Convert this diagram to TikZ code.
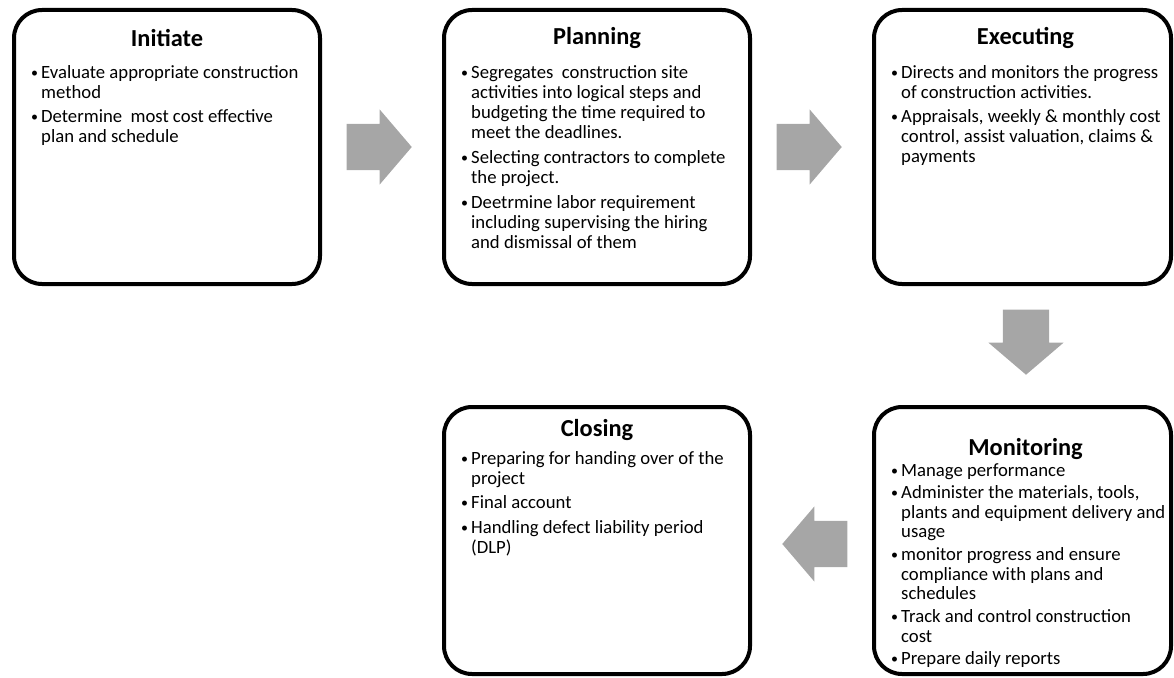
\documentclass[tikz,border=0pt]{standalone}
\usepackage{fontspec}
\setmainfont{Carlito}
\usetikzlibrary{positioning, calc, shapes.arrows}
\definecolor{flowgray}{HTML}{A6A6A6}
\tikzset{
phase/.style={draw, line width=4pt, rounded corners=28pt, minimum width=306pt, minimum height=274pt}, % the outlined stage boxes
phasetitle/.style={font=\fontsize{24.4}{28}\selectfont\bfseries, anchor=base, inner sep=0pt}, % bold heading of a stage
phasebody/.style={font=\fontsize{18.7}{20}\selectfont, anchor=base west, inner sep=0pt}, % bullet list of a stage
flow/.style={single arrow, fill=flowgray, draw=none, inner xsep=0pt, inner ysep=23pt, minimum width=75pt, minimum height=65pt, single arrow head extend=14.5pt, single arrow tip angle=99, anchor=tip}, % grey block arrows
}
\newcommand{\bul}{\raisebox{1pt}{\fontsize{14}{14}\selectfont\textbullet}}

\begin{document}
\begin{tikzpicture}[x=1pt, y=-1pt]
        \useasboundingbox (0,0) rectangle (1174,677);
        % stages
        \node[phase] (init) at (167,147) {};
        \node[phase] (plan) at (597,147) {};
        \node[phase, minimum width=297pt] (exec) at (1022.5,147) {};
        \node[phase, minimum width=297pt, minimum height=267pt] (moni) at (1022.5,540.5) {};
        \node[phase, minimum height=267pt] (clos) at (597,540.5) {};
        % headings
        \node[phasetitle] (initT) at ([yshift=-38pt]init.north) {Initiate};
        \node[phasetitle] (planT) at ([yshift=-37pt]plan.north) {Planning};
        \node[phasetitle] (execT) at ([xshift=3pt, yshift=-37pt]exec.north) {Executing};
        \node[phasetitle] (moniT) at ([xshift=3pt, yshift=-50pt]moni.north) {Monitoring};
        \node[phasetitle] (closT) at ([yshift=-31pt]clos.north) {Closing};
        % bullet lists
        \node[phasebody] (initB) at ([xshift=19pt, yshift=-70pt]init.north west) {%
                \begin{tabular}[t]{@{}p{10pt}@{}l@{}}
                \bul & Evaluate appropriate construction\\
                & method\\[4pt]
                \bul & Determine\ \ most cost effective\\
                & plan and schedule
                \end{tabular}};
        \node[phasebody] (planB) at ([xshift=19pt, yshift=-70pt]plan.north west) {%
                \begin{tabular}[t]{@{}p{10pt}@{}l@{}}
                \bul & Segregates\ \ construction site\\
                & activities into logical steps and\\
                & budgeting the time required to\\
                & meet the deadlines.\\[5pt]
                \bul & Selecting contractors to complete\\
                & the project.\\[5pt]
                \bul & Deetrmine labor requirement\\
                & including supervising the hiring\\
                & and dismissal of them
                \end{tabular}};
        \node[phasebody] (execB) at ([xshift=19pt, yshift=-70pt]exec.north west) {%
                \begin{tabular}[t]{@{}p{10pt}@{}l@{}}
                \bul & Directs and monitors the progress\\
                & of construction activities.\\[4pt]
                \bul & Appraisals, weekly \& monthly cost\\
                & control, assist valuation, claims \&\\
                & payments
                \end{tabular}};
        \node[phasebody, font=\fontsize{18.7}{19.7}\selectfont] (moniB) at ([xshift=19pt, yshift=-71pt]moni.north west) {%
                \begin{tabular}[t]{@{}p{10pt}@{}l@{}}
                \bul & Manage performance\\[2.8pt]
                \bul & Administer the materials, tools,\\
                & plants and equipment delivery and\\
                & usage\\[2.8pt]
                \bul & monitor progress and ensure\\
                & compliance with plans and\\
                & schedules\\[2.8pt]
                \bul & Track and control construction\\
                & cost\\[2.8pt]
                \bul & Prepare daily reports
                \end{tabular}};
        \node[phasebody] (closB) at ([xshift=19pt, yshift=-59pt]clos.north west) {%
                \begin{tabular}[t]{@{}p{10pt}@{}l@{}}
                \bul & Preparing for handing over of the\\
                & project\\[4.5pt]
                \bul & Final account\\[4.5pt]
                \bul & Handling defect liability period\\
                & (DLP)
                \end{tabular}};
        % block arrows between the stages
        \node[flow] (a1) at ([xshift=-30pt]plan.west) {};
        \node[flow] (a2) at ([xshift=-30pt]exec.west) {};
        \node[flow, shape border rotate=270, inner xsep=23pt, inner ysep=0pt] (a3) at ([xshift=3.5pt, yshift=30pt]moni.north) {};
        \node[flow, shape border rotate=180] (a4) at ([xshift=30pt, yshift=-3.5pt]clos.east) {};
\end{tikzpicture}
\end{document}
